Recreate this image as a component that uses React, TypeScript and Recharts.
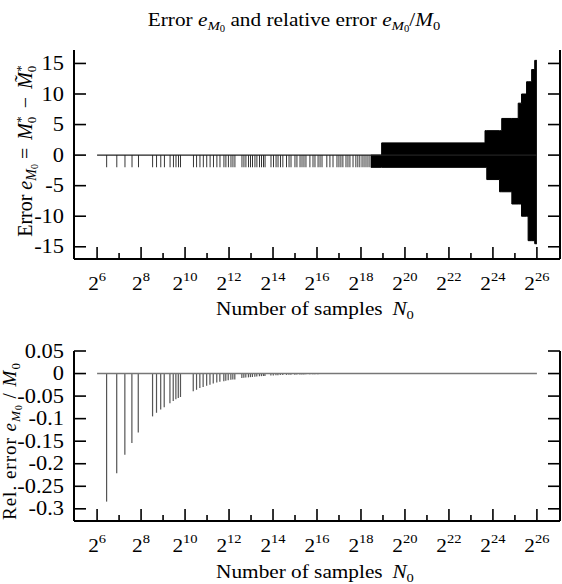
import React from "react"
import { ComposedChart, Bar, Line, Area, XAxis, YAxis } from "recharts"

const SERIF = "Liberation Serif, DejaVu Serif, serif"

// log2(N0) of each isolated error spike
const spikeExp = [
  6.44, 6.90, 7.27, 7.59, 7.88, 8.53, 8.71, 8.90, 9.06, 9.32, 9.47, 9.59, 9.70, 9.80, 10.38, 10.53,
  10.68, 10.83, 10.99, 11.14, 11.29, 11.45, 11.59, 11.77, 11.86, 11.97, 12.09, 12.18, 12.27,
  12.59, 12.68, 12.77, 12.89, 12.98, 13.07, 13.18, 13.27, 13.39, 13.48, 13.57, 13.64,
  13.91, 14.02, 14.14, 14.23, 14.34, 14.45, 14.62, 14.73, 14.82, 15.0, 15.09, 15.23, 15.32, 15.41,
  15.5, 15.68, 15.82, 15.91, 16.05, 16.14, 16.23, 16.45, 16.59, 16.73, 16.91, 17.0, 17.09, 17.18,
  17.32, 17.41, 17.5, 17.64, 17.77, 17.86, 17.95, 18.05, 18.14, 18.23, 18.32, 18.41,
]
// error e_M0 at each spike
const spikeErr = [
  -2, -2, -2, -2, -2, -2, -2, -2, -2, -2, -2, -2, -2, -2, -2, -2,
  -2, -2, -2, -2, -2, -2, -2, -2, -2, -2, -2, -2, -2,
  -2, -2, -2, -2, -2, -2, -2, -2, -2, -2, -2, -2,
  -2, -2, -2, -2, -2, -2, -2, -2, -2, -2, -2, -2, -2, -2,
  -2, -2, -2, -2, -2, -2, -2, -2, -2, -2, -2, -2, -2, -2,
  -2, -2, -2, -2, -2, -2, -2, -2, -2, -2, -2, -2,
]
// relative error e_M0 / M0 at each spike
const spikeRel = [
  -0.284, -0.221, -0.18, -0.154, -0.131, -0.095, -0.087, -0.08, -0.075, -0.066, -0.061, -0.057, -0.054, -0.052, -0.039, -0.036,
  -0.032, -0.03, -0.027, -0.025, -0.022, -0.02, -0.018, -0.017, -0.016, -0.015, -0.014, -0.013, -0.013,
  -0.01, -0.0095, -0.009, -0.0085, -0.008, -0.0075, -0.007, -0.0065, -0.006, -0.0058, -0.0055, -0.0052,
  -0.0045, -0.0042, -0.004, -0.0038, -0.0035, -0.0033, -0.003, -0.0028, -0.0026, -0.0024, -0.0023, -0.0021, -0.002, -0.0019,
  -0.0018, -0.0016, -0.0015, -0.0014, -0.0013, -0.0012, -0.0011, -0.001, -0.0009, -0.0008, -0.0007, -0.0007, -0.0006, -0.0006,
  -0.0005, -0.0005, -0.0004, -0.0004, -0.0004, -0.0003, -0.0003, -0.0003, -0.0003, -0.0002, -0.0002, -0.0002,
]

// dense oscillation envelope for large N0 (step edges)
const bandExp = [18.45, 18.94, 23.64, 23.72, 24.3, 24.4, 24.86, 25.15, 25.3, 25.53, 25.6, 25.76, 25.9, 26.0]
const bandHi = [0, 2, 4, 4, 4, 6, 6, 8.5, 10, 12, 12, 14, 15.5, 15.5]
const bandLo = [-2, -2, -2, -4, -6, -6, -8, -8, -10, -10, -14, -14, -14.5, -14.5]

const zeroExp = [6, 26]

const xTicks = [6, 7, 8, 9, 10, 11, 12, 13, 14, 15, 16, 17, 18, 19, 20, 21, 22, 23, 24, 25, 26]
const errTicks = [-15, -10, -5, 0, 5, 10, 15]
const relTicks = [-0.3, -0.25, -0.2, -0.15, -0.1, -0.05, 0, 0.05]

const byX = (a: any, b: any) => a.x - b.x

const topRows = [
  ...bandExp.map((x, i) => ({ x, band: [bandLo[i], bandHi[i]] })),
  ...zeroExp.map((x) => ({ x, zero: 0 })),
  ...spikeExp.map((x, i) => ({ x, err: spikeErr[i] })),
].sort(byX)

const bottomRows = [
  ...zeroExp.map((x) => ({ x, zero: 0 })),
  ...spikeExp.map((x, i) => ({ x, rel: spikeRel[i] })),
].sort(byX)

const STRETCH = 1.12

const Stretched = ({ x, y, anchor = "middle", size, children }: any) => (
  <g transform={`translate(${x} ${y}) scale(${STRETCH} 1)`}>
    <text x={0} y={0} textAnchor={anchor} fontSize={size} style={{ fontFamily: SERIF }} fill="#000">
      {children}
    </text>
  </g>
)

const XTickBottom = (props: any) => {
  const { x, y, payload } = props
  const v = payload.value
  const major = v % 2 === 0
  return (
    <g>
      <line x1={x} x2={x} y1={y} y2={y - (major ? 12 : 6)} stroke="#000" strokeWidth={1.6} />
      {major && (
        <Stretched x={x} y={y + 31} size={19}>
          <tspan>2</tspan>
          <tspan dy={-9} fontSize={13}>{v}</tspan>
        </Stretched>
      )}
    </g>
  )
}

const XTickTop = (props: any) => {
  const { x, y, payload } = props
  const major = payload.value % 2 === 0
  return <line x1={x} x2={x} y1={y} y2={y + (major ? 12 : 6)} stroke="#000" strokeWidth={1.6} />
}

const YTickLeft = (props: any) => {
  const { x, y, payload } = props
  return (
    <g>
      <line x1={x} x2={x + 12} y1={y} y2={y} stroke="#000" strokeWidth={1.6} />
      <Stretched x={x - 10} y={y + 6.5} anchor="end" size={20}>
        {String(payload.value)}
      </Stretched>
    </g>
  )
}

const YTickRight = (props: any) => {
  const { x, y } = props
  return <line x1={x} x2={x - 12} y1={y} y2={y} stroke="#000" strokeWidth={1.6} />
}

const axisLine = { stroke: "#000", strokeWidth: 2 }

const eM0 = (size: number, k: string) => [
  <tspan key={k + "e"} fontStyle="italic">e</tspan>,
  <tspan key={k + "m"} fontStyle="italic" fontSize={size * 0.7} dy={size * 0.22}>M</tspan>,
  <tspan key={k + "0"} fontSize={size * 0.5} dy={size * 0.1}>0</tspan>,
]

export default function App() {
  return (
    <div style={{ position: "absolute", left: 0, top: 0, width: 562, height: 584, background: "#fff" }}>
      <div style={{ position: "absolute", left: 0, top: 0 }}>
        <ComposedChart width={562} height={330} data={topRows} margin={{ top: 50, right: 0, bottom: 0, left: 0 }}>
          <XAxis xAxisId="b" dataKey="x" type="number" domain={[4.95, 27.05]} allowDataOverflow ticks={xTicks}
            interval={0} height={71} tickSize={0} tickMargin={0} axisLine={axisLine} tick={<XTickBottom />} />
          <XAxis xAxisId="t" dataKey="x" type="number" orientation="top" domain={[4.95, 27.05]} allowDataOverflow
            ticks={xTicks} interval={0} height={0} tickSize={0} tickMargin={0} axisLine={axisLine} tick={<XTickTop />} />
          <YAxis yAxisId="l" type="number" domain={[-17, 17.2]} allowDataOverflow ticks={errTicks} interval={0}
            width={74} tickSize={0} tickMargin={0} axisLine={axisLine} tick={<YTickLeft />} />
          <YAxis yAxisId="r" orientation="right" type="number" domain={[-17, 17.2]} allowDataOverflow ticks={errTicks}
            interval={0} width={2} tickSize={0} tickMargin={0} axisLine={axisLine} tick={<YTickRight />} />
          <Area xAxisId="b" yAxisId="l" dataKey="band" type="stepAfter" fill="#000" fillOpacity={1}
            stroke="#000" strokeWidth={1} isAnimationActive={false} connectNulls={false} dot={false} activeDot={false} />
          <Bar xAxisId="b" yAxisId="l" dataKey="err" fill="#000" barSize={1.8} isAnimationActive={false} />
          <Line xAxisId="b" yAxisId="l" dataKey="zero" stroke="#222" strokeWidth={1.3} dot={false}
            activeDot={false} connectNulls isAnimationActive={false} />
        </ComposedChart>
      </div>

      <div style={{ position: "absolute", left: 0, top: 322 }}>
        <ComposedChart width={562} height={262} data={bottomRows} margin={{ top: 29, right: 0, bottom: 0, left: 0 }}>
          <XAxis xAxisId="b" dataKey="x" type="number" domain={[4.95, 27.05]} allowDataOverflow ticks={xTicks}
            interval={0} height={63} tickSize={0} tickMargin={0} axisLine={axisLine} tick={<XTickBottom />} />
          <XAxis xAxisId="t" dataKey="x" type="number" orientation="top" domain={[4.95, 27.05]} allowDataOverflow
            ticks={xTicks} interval={0} height={0} tickSize={0} tickMargin={0} axisLine={axisLine} tick={<XTickTop />} />
          <YAxis yAxisId="l" type="number" domain={[-0.327, 0.05]} allowDataOverflow ticks={relTicks} interval={0}
            width={74} tickSize={0} tickMargin={0} axisLine={axisLine} tick={<YTickLeft />} />
          <YAxis yAxisId="r" orientation="right" type="number" domain={[-0.327, 0.05]} allowDataOverflow ticks={relTicks}
            interval={0} width={2} tickSize={0} tickMargin={0} axisLine={axisLine} tick={<YTickRight />} />
          <Bar xAxisId="b" yAxisId="l" dataKey="rel" fill="#555" barSize={1.2} isAnimationActive={false} />
          <Line xAxisId="b" yAxisId="l" dataKey="zero" stroke="#777" strokeWidth={1.5} dot={false}
            activeDot={false} connectNulls isAnimationActive={false} />
        </ComposedChart>
      </div>

      <svg width={562} height={584} style={{ position: "absolute", left: 0, top: 0, pointerEvents: "none" }}>
        <Stretched x={294} y={26} size={19}>
          <tspan>Error </tspan>
          {eM0(19, "a")}
          <tspan dy={-19 * 0.32}> and relative error </tspan>
          {eM0(19, "b")}
          <tspan dy={-19 * 0.32}>/</tspan>
          <tspan fontStyle="italic">M</tspan>
          <tspan fontSize={13} dy={4}>0</tspan>
        </Stretched>

        <Stretched x={315} y={315} size={19}>
          <tspan>Number of samples </tspan>
          <tspan fontStyle="italic" dx={4}>N</tspan>
          <tspan fontSize={13} dy={4}>0</tspan>
        </Stretched>
        <Stretched x={315} y={578} size={19}>
          <tspan>Number of samples </tspan>
          <tspan fontStyle="italic" dx={4}>N</tspan>
          <tspan fontSize={13} dy={4}>0</tspan>
        </Stretched>

        <g transform="translate(32 151) rotate(-90)">
          <text x={0} y={0} textAnchor="middle" fontSize={20} style={{ fontFamily: SERIF }} fill="#000">
            <tspan>Error </tspan>
            {eM0(20, "c")}
            <tspan dy={-20 * 0.32}>{" = "}</tspan>
            <tspan fontStyle="italic" dx={3}>M</tspan>
            <tspan fontSize={13} dy={4}>0</tspan>
            <tspan fontSize={13} dx={-6} dy={-11}>*</tspan>
            <tspan dy={7} dx={3}>{" − "}</tspan>
            <tspan fontStyle="italic" dx={3}>{"M\u0303"}</tspan>
            <tspan fontSize={13} dy={4}>0</tspan>
            <tspan fontSize={13} dx={-6} dy={-11}>*</tspan>
          </text>
        </g>
      </svg>

      <svg width={562} height={262} style={{ position: "absolute", left: 0, top: 322, pointerEvents: "none" }}>
        <g transform="translate(16 198) rotate(-90)">
          <text x={0} y={0} textAnchor="start" fontSize={19} style={{ fontFamily: SERIF }} fill="#000" letterSpacing={1}>
            <tspan>Rel. error </tspan>
            {eM0(19, "d")}
            <tspan dy={-19 * 0.32}>{" / "}</tspan>
            <tspan fontStyle="italic">M</tspan>
            <tspan fontSize={13} dy={4}>0</tspan>
          </text>
        </g>
      </svg>
    </div>
  )
}
